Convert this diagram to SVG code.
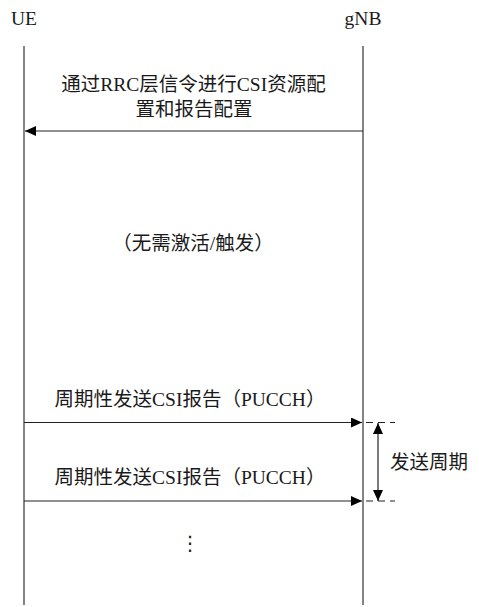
<svg xmlns="http://www.w3.org/2000/svg" width="479" height="607" viewBox="0 0 479 607">
<style>
  .t{font-family:"Liberation Serif","Noto Sans CJK SC",serif;font-size:19.5px;fill:#1a1a1a}
  .life{stroke:#333;stroke-width:1.2;fill:none}
  .msg{stroke:#222;stroke-width:1.2;fill:none}
  .dash{stroke:#222;stroke-width:1;stroke-dasharray:7,5;fill:none}
</style>
<defs>
  <marker id="ah" viewBox="0 0 11 10" refX="11" refY="5" markerWidth="11" markerHeight="10" markerUnits="userSpaceOnUse" orient="auto">
    <path d="M0,0 L11,5 L0,10 z" fill="#000"/>
  </marker>
  <marker id="ahs" viewBox="0 0 11 10" refX="0" refY="5" markerWidth="11" markerHeight="10" markerUnits="userSpaceOnUse" orient="auto">
    <path d="M11,0 L0,5 L11,10 z" fill="#000"/>
  </marker>
</defs>
<rect width="479" height="607" fill="#fff"/>
<g id="UE">
  <text class="t" x="24" y="25" text-anchor="middle">UE</text>
  <line class="life" x1="24" y1="46" x2="24" y2="605"/>
</g>
<g id="gNB">
  <text class="t" x="363" y="25" text-anchor="middle">gNB</text>
  <line class="life" x1="363" y1="46" x2="363" y2="605"/>
</g>
<g id="connectors">
  <line class="msg" x1="363" y1="131" x2="25" y2="131" marker-end="url(#ah)"/>
  <line class="msg" x1="24" y1="422.5" x2="362" y2="422.5" marker-end="url(#ah)"/>
  <line class="msg" x1="24" y1="501" x2="362" y2="501" marker-end="url(#ah)"/>
  <line class="dash" x1="366" y1="422.5" x2="395" y2="422.5"/>
  <line class="dash" x1="366" y1="501" x2="395" y2="501"/>
  <line class="msg" x1="378" y1="423" x2="378" y2="501" marker-start="url(#ahs)" marker-end="url(#ah)"/>
</g>
<g id="labels">
  <text class="t" x="193.5" y="91" text-anchor="middle">通过RRC层信令进行CSI资源配</text>
  <text class="t" x="194" y="116" text-anchor="middle">置和报告配置</text>
  <text class="t" x="193" y="250" text-anchor="middle">（无需激活/触发）</text>
  <text class="t" x="190" y="406" text-anchor="middle">周期性发送CSI报告（PUCCH）</text>
  <text class="t" x="190" y="484" text-anchor="middle">周期性发送CSI报告（PUCCH）</text>
  <text class="t" x="429" y="469" text-anchor="middle">发送周期</text>
  <text x="190" y="550" text-anchor="middle" style="font-family:'DejaVu Sans',sans-serif;font-size:20px;fill:#1a1a1a">⋮</text>
</g>
</svg>
